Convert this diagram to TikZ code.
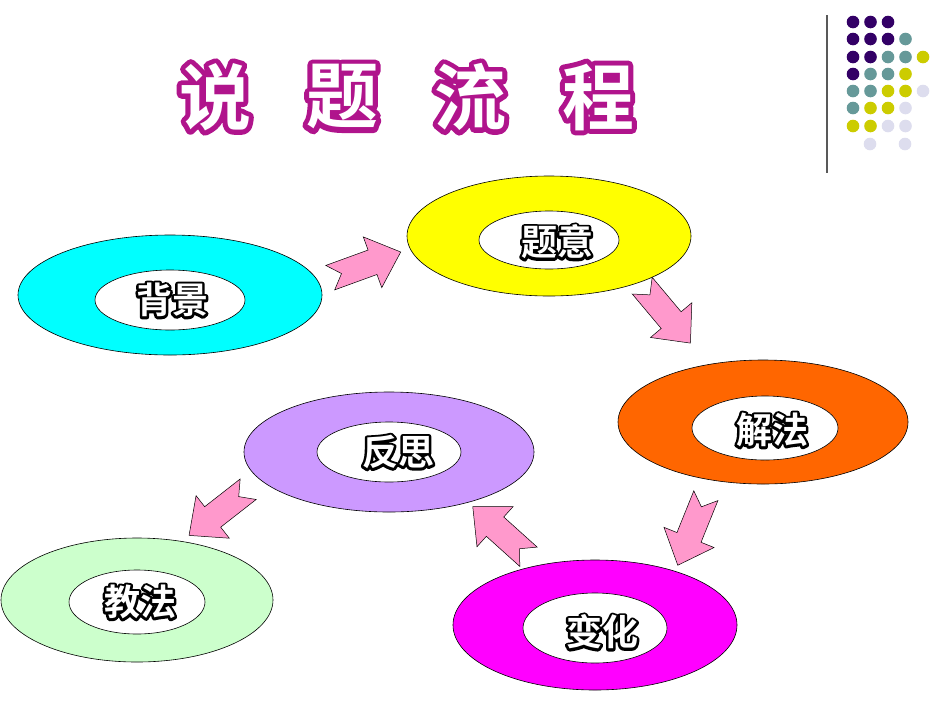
\documentclass[tikz,border=0pt]{standalone}
\usepackage{fontspec}
\newfontfamily\cjk{Noto Sans CJK SC Bold}
\usetikzlibrary{calc}
\definecolor{cP}{HTML}{330066}\definecolor{cT}{HTML}{669999}
\definecolor{cY}{HTML}{CCCC00}\definecolor{cL}{HTML}{DDDDEE}
\definecolor{pinkar}{HTML}{FF99CC}
\tikzset{ring/.style={draw=black,line width=0.6pt},
  inner/.style={draw=black,fill=white,line width=0.6pt},
  blockar/.style={draw=black,fill=pinkar,line width=0.5pt}}
\newcommand\olt[6]{% name, pos, text, outline rgb (pdf), stroke width, size
  \node[inner sep=0] at (#2) {\fontsize{#6}{#6}\cjk\special{pdf:literal direct q 1 Tr 1 j #5 w #4 RG}#3\special{pdf:literal direct Q}};
  \node[text=white,inner sep=0] (#1) at (#2) {\fontsize{#6}{#6}\cjk #3};}
\newcommand\blk[3]{% name, center, angle
  \begin{scope}[shift={(#2)},rotate=#3]
  \coordinate (#1) at (0,0);
  \draw[blockar] (-37,-13) -- (8,-13) -- (8,-27) -- (38,0) -- (8,27) -- (8,13) -- (-37,13) -- (-25,0) -- cycle;
  \end{scope}}
\begin{document}
\begin{tikzpicture}[x=1pt,y=-1pt]
\useasboundingbox (0,0) rectangle (950,713);
\fill[white] (0,0) rectangle (950,713);
% title
\olt{t1}{215,97}{说}{0.69 0.08 0.55}{10}{72pt}
\olt{t2}{342,97}{题}{0.69 0.08 0.55}{10}{72pt}
\olt{t3}{470,97}{流}{0.69 0.08 0.55}{10}{72pt}
\olt{t4}{598,97}{程}{0.69 0.08 0.55}{10}{72pt}
% dots
\draw[gray!70!black,line width=1.2pt] (827,15) coordinate (l1) -- (827,173) coordinate (l2);
\foreach \r/\row in {22/{P,P,P},39/{P,P,P,T},57/{P,P,T,T,Y},74/{P,T,T,Y},91/{T,T,Y,Y,L},108/{T,Y,Y,L},126/{Y,Y,L,L}}{
  \foreach \c [count=\i] in \row {\fill[c\c] ({853+17.5*(\i-1)},\r) circle (6.3);}}
\fill[cL] (870,144) circle (6.3); \fill[cL] (905,144) circle (6.3);
% rings
\draw[ring,fill={rgb,255:red,0;green,255;blue,255}] (170,295) ellipse (152 and 60);
\draw[inner] (170,300) ellipse (75 and 30);
\draw[ring,fill={rgb,255:red,255;green,255;blue,0}] (549,236) ellipse (142 and 60);
\draw[inner] (549,240) ellipse (70 and 29);
\draw[ring,fill={rgb,255:red,255;green,102;blue,0}] (763,422) ellipse (145 and 62);
\draw[inner] (765,428) ellipse (73 and 32);
\draw[ring,fill={rgb,255:red,204;green,153;blue,255}] (389,452) ellipse (145 and 60);
\draw[inner] (389,452) ellipse (72 and 30);
\draw[ring,fill={rgb,255:red,204;green,255;blue,204}] (137,600) ellipse (136 and 62);
\draw[inner] (137,602) ellipse (68 and 32);
\draw[ring,fill={rgb,255:red,255;green,0;blue,255}] (595,625) ellipse (142 and 65);
\draw[inner] (595,628) ellipse (72 and 35);
% labels
\olt{n1}{172,300}{背景}{0 0 0}{5}{36pt}
\olt{n2}{557,242}{题意}{0 0 0}{5}{36pt}
\olt{n3}{772,430}{解法}{0 0 0}{5}{36pt}
\olt{n4}{398,452}{反思}{0 0 0}{5}{36pt}
\olt{n5}{140,602}{教法}{0 0 0}{5}{36pt}
\olt{n6}{602,632}{变化}{0 0 0}{5}{36pt}
% arrows
\blk{a1}{365,265}{20}
\blk{a2}{666,314}{-50}
\blk{a3}{692,530}{-112}
\blk{a4}{501,532}{138}
\blk{a5}{219,512}{-142}
\end{tikzpicture}
\end{document}
